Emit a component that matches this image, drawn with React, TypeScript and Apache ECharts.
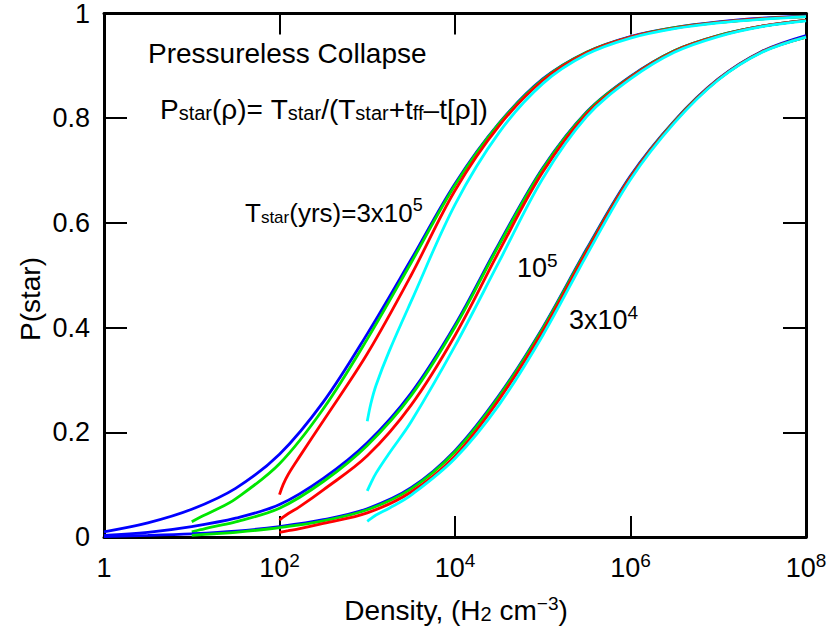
import React, { useEffect, useRef } from 'react';
import * as echarts from 'echarts';

// Axis ticks
const xTickValues = [1, 100, 1e4, 1e6, 1e8];
const yTickValues = [0, 0.2, 0.4, 0.6, 0.8, 1];

// T_star = 3x10^5 yr  [density (H2 cm^-3), P(star)]
const t3e5Blue = [[1,0.010],[3.16,0.027],[10,0.053],[31.6,0.093],[100,0.158],[316,0.258],[1000,0.388],[3162,0.53],[1e4,0.675],[3.16e4,0.79],[1e5,0.875],[3.16e5,0.926],[1e6,0.956],[3.16e6,0.973],[1e7,0.984],[3.16e7,0.991],[1e8,0.995]];
const t3e5Green = [[10,0.029],[12.6,0.038],[17.8,0.050],[31.6,0.073],[100,0.140],[316,0.245],[1000,0.378],[3162,0.524],[1e4,0.672],[3.16e4,0.789],[1e5,0.874],[3.16e5,0.926],[1e6,0.955],[3.16e6,0.973],[1e7,0.983],[3.16e7,0.990],[1e8,0.994]];
const t3e5Red = [[100,0.081],[110,0.100],[126,0.120],[170,0.154],[316,0.222],[1000,0.350],[3162,0.50],[1e4,0.662],[3.16e4,0.785],[1e5,0.872],[3.16e5,0.925],[1e6,0.955],[3.16e6,0.972],[1e7,0.983],[3.16e7,0.990],[1e8,0.994]];
const t3e5Cyan = [[1000,0.221],[1100,0.255],[1260,0.29],[1780,0.355],[3162,0.45],[1e4,0.635],[3.16e4,0.772],[1e5,0.866],[3.16e5,0.922],[1e6,0.953],[3.16e6,0.971],[1e7,0.982],[3.16e7,0.989],[1e8,0.994]];

// T_star = 10^5 yr
const t1e5Blue = [[1,0.003],[3.16,0.009],[10,0.020],[31.6,0.036],[100,0.062],[316,0.112],[1000,0.180],[3162,0.275],[1e4,0.405],[3.16e4,0.56],[1e5,0.705],[3.16e5,0.812],[1e6,0.880],[3.16e6,0.929],[1e7,0.958],[3.16e7,0.976],[1e8,0.987]];
const t1e5Green = [[10,0.010],[12.6,0.014],[17.8,0.020],[31.6,0.029],[100,0.055],[316,0.106],[1000,0.175],[3162,0.270],[1e4,0.401],[3.16e4,0.557],[1e5,0.703],[3.16e5,0.811],[1e6,0.879],[3.16e6,0.929],[1e7,0.958],[3.16e7,0.976],[1e8,0.987]];
const t1e5Red = [[100,0.032],[110,0.038],[126,0.045],[170,0.058],[316,0.09],[1000,0.155],[3162,0.252],[1e4,0.385],[3.16e4,0.545],[1e5,0.697],[3.16e5,0.808],[1e6,0.878],[3.16e6,0.928],[1e7,0.957],[3.16e7,0.976],[1e8,0.987]];
const t1e5Cyan = [[1000,0.088],[1100,0.103],[1260,0.122],[1780,0.16],[3162,0.22],[1e4,0.365],[3.16e4,0.525],[1e5,0.685],[3.16e5,0.803],[1e6,0.875],[3.16e6,0.926],[1e7,0.956],[3.16e7,0.975],[1e8,0.986]];

// T_star = 3x10^4 yr
const t3e4Blue = [[1,0.001],[3.16,0.003],[10,0.006],[31.6,0.011],[100,0.020],[316,0.033],[1000,0.054],[3162,0.094],[1e4,0.165],[3.16e4,0.27],[1e5,0.40],[3.16e5,0.55],[1e6,0.69],[3.16e6,0.795],[1e7,0.875],[3.16e7,0.928],[1e8,0.958]];
const t3e4Green = [[10,0.003],[17.8,0.006],[31.6,0.009],[100,0.018],[316,0.031],[1000,0.052],[3162,0.092],[1e4,0.163],[3.16e4,0.268],[1e5,0.398],[3.16e5,0.548],[1e6,0.688],[3.16e6,0.794],[1e7,0.874],[3.16e7,0.927],[1e8,0.955]];
const t3e4Red = [[100,0.009],[126,0.012],[170,0.016],[316,0.026],[1000,0.046],[3162,0.086],[1e4,0.155],[3.16e4,0.262],[1e5,0.393],[3.16e5,0.545],[1e6,0.687],[3.16e6,0.793],[1e7,0.874],[3.16e7,0.927],[1e8,0.955]];
const t3e4Cyan = [[1000,0.030],[1100,0.035],[1260,0.042],[1780,0.055],[3162,0.08],[1e4,0.15],[3.16e4,0.252],[1e5,0.385],[3.16e5,0.538],[1e6,0.683],[3.16e6,0.791],[1e7,0.873],[3.16e7,0.926],[1e8,0.955]];

const curveColors = ['#0000ff', '#00e600', '#ff0000', '#00ffff'];
const curveSets = [
  [t3e5Blue, t3e5Green, t3e5Red, t3e5Cyan],
  [t1e5Blue, t1e5Green, t1e5Red, t1e5Cyan],
  [t3e4Blue, t3e4Green, t3e4Red, t3e4Cyan],
];

const FONT = '"Liberation Sans", Arial, Helvetica, sans-serif';

function makeRich(base: number, sub: number, sup: number) {
  return {
    n: { fontSize: base, lineHeight: 30, verticalAlign: 'bottom', fontFamily: FONT, color: '#000' },
    sub: { fontSize: sub, lineHeight: 4, verticalAlign: 'bottom', fontFamily: FONT, color: '#000' },
    sup: { fontSize: sup, lineHeight: 12, verticalAlign: 'top', fontFamily: FONT, color: '#000' },
  };
}

function richText(x: number, y: number, text: string, align = 'left', rich = makeRich(28, 20, 19)) {
  return {
    type: 'text',
    x,
    y,
    silent: true,
    style: {
      text,
      rich,
      align,
      textAlign: align,
      verticalAlign: 'top',
      textVerticalAlign: 'top',
      fill: '#000',
    },
  };
}

function buildOption() {
  const series: any[] = [];
  curveSets.forEach((set) => {
    set.forEach((data, i) => {
      series.push({
        type: 'line',
        data,
        showSymbol: false,
        smooth: 0.35,
        xAxisIndex: 0,
        yAxisIndex: 0,
        lineStyle: { color: curveColors[i], width: 2.8 },
        itemStyle: { color: curveColors[i] },
        silent: true,
      });
    });
  });

  const xAxisCommon = {
    type: 'log',
    logBase: 10,
    min: 1,
    max: 1e8,
    splitLine: { show: false },
    minorTick: { show: false },
    axisLine: { show: true, onZero: false, lineStyle: { color: '#000', width: 3 } },
    axisTick: { show: true, inside: true, length: 21, customValues: xTickValues, lineStyle: { color: '#000', width: 2 } },
  };
  const yAxisCommon = {
    type: 'value',
    min: 0,
    max: 1,
    interval: 0.2,
    splitLine: { show: false },
    axisLine: { show: true, onZero: false, lineStyle: { color: '#000', width: 3 } },
    axisTick: { show: true, inside: true, length: 23, customValues: yTickValues, lineStyle: { color: '#000', width: 2 } },
  };

  return {
    animation: false,
    backgroundColor: '#fff',
    grid: { left: 104, top: 12, width: 702, height: 525, containLabel: false },
    xAxis: [
      {
        ...xAxisCommon,
        position: 'bottom',
        axisLabel: {
          show: true,
          customValues: xTickValues,
          margin: 14,
          color: '#000',
          formatter: (v: number) => {
            const e = Math.round(Math.log10(v));
            return e === 0 ? '{n|1}' : `{n|10}{s|${e}}`;
          },
          rich: {
            n: { fontSize: 27, lineHeight: 30, verticalAlign: 'bottom', fontFamily: FONT, color: '#000' },
            s: { fontSize: 19, lineHeight: 14, verticalAlign: 'top', fontFamily: FONT, color: '#000' },
          },
        },
      },
      { ...xAxisCommon, position: 'top', axisLabel: { show: false } },
    ],
    yAxis: [
      {
        ...yAxisCommon,
        position: 'left',
        axisLabel: {
          show: true,
          customValues: yTickValues,
          margin: 14,
          color: '#000',
          fontSize: 27,
          fontFamily: FONT,
          formatter: (v: number) => String(Math.round(v * 10) / 10),
        },
      },
      { ...yAxisCommon, position: 'right', axisLabel: { show: false } },
    ],
    graphic: [
      richText(148, 37, '{n|Pressureless Collapse}'),
      richText(160, 93, '{n|P}{sub|star}{n|(ρ)= T}{sub|star}{n|/(T}{sub|star}{n|+t}{sub|ff}{n|–t[ρ])}'),
      richText(245, 196, '{n|T}{sub|star}{n|(yrs)=3x10}{sup|5}', 'left', makeRich(26, 17, 18)),
      richText(517, 251, '{n|10}{sup|5}', 'left', makeRich(27, 18, 19)),
      richText(569, 303, '{n|3x10}{sup|4}', 'left', makeRich(27, 18, 19)),
      richText(456, 594, '{n|Density, (H}{sub|2}{n| cm}{sup|−3}{n|)}', 'center'),
      {
        type: 'text',
        x: 30,
        y: 299,
        rotation: Math.PI / 2,
        silent: true,
        style: {
          text: 'P(star)',
          font: `28px ${FONT}`,
          fill: '#000',
          align: 'center',
          textAlign: 'center',
          verticalAlign: 'middle',
          textVerticalAlign: 'middle',
        },
      },
    ],
    series,
  };
}

export default function App() {
  const ref = useRef<HTMLDivElement>(null);
  useEffect(() => {
    if (!ref.current) return;
    const chart = echarts.init(ref.current, null, { renderer: 'svg' });
    chart.setOption(buildOption() as any);
    return () => chart.dispose();
  }, []);
  return (
    <div
      ref={ref}
      style={{ position: 'absolute', left: 0, top: 0, width: 830, height: 633, background: '#fff' }}
    />
  );
}
